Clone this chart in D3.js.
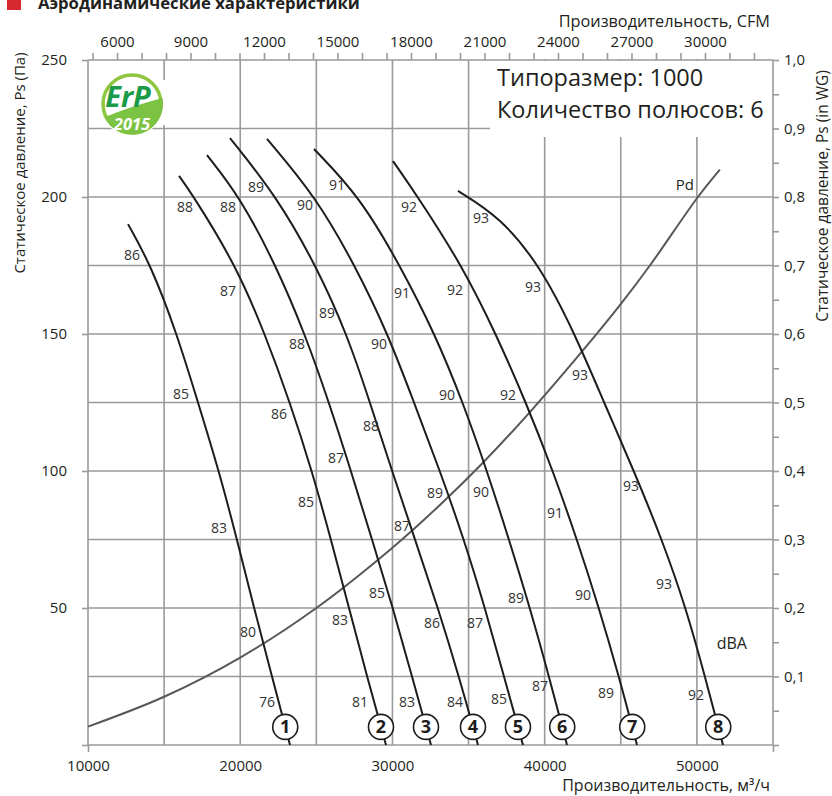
<!DOCTYPE html>
<html><head><meta charset="utf-8">
<script src="https://cdn.jsdelivr.net/npm/d3@7"></script>
<style>
body{margin:0;background:#fff;}
svg{display:block;font-family:"Open Sans",sans-serif;}
</style></head><body>
<svg id="chart" width="832" height="796"></svg>
<script>
// ---------- DATA ----------
const gridQ = [10000,15000,20000,25000,30000,35000,40000,45000,50000,55000];
const gridP = [0,25,50,75,100,125,150,175,200,225,250];
const bottomLabels = [10000,20000,30000,40000,50000];
const leftTicks = [0,50,100,150,200,250];
const cfmDomain = [4816,32776];
const cfmTicks = [5000,6000,7000,8000,9000,10000,11000,12000,13000,14000,15000,16000,17000,18000,19000,20000,21000,22000,23000,24000,25000,26000,27000,28000,29000,30000,31000,32000];
const cfmLabels = [6000,9000,12000,15000,18000,21000,24000,27000,30000];
const wgTicks = [0,0.05,0.1,0.15,0.2,0.25,0.3,0.35,0.4,0.45,0.5,0.55,0.6,0.65,0.7,0.75,0.8,0.85,0.9,0.95,1.0];
const wgLabels = [0.1,0.2,0.3,0.4,0.5,0.6,0.7,0.8,0.9,1.0];

// Dynamic pressure curve [Q m3/h, Pa]
const pdCurve = [[10000,6.7],[15000,17.6],[20000,31.9],[25000,50],[30000,72],[33120,87.6],[35944,103],[39031,121.5],[42512,144],[45008,161],[46912,175],[50066,200],[51510,210]];

// Fan curves [Q m3/h, Ps Pa]
const curve1 = [[12628,190.1],[14139,175],[15847,150],[17226,125],[18606,100],[19788,75],[20905,50],[22088,25],[23270,0]];
const curve2 = [[15978,207.7],[16963,200],[19723,175],[21628,150],[23270,125],[24715,100],[25963,75],[27146,50],[28328,25],[29577,0]];
const curve3 = [[17817,215.3],[19985,200],[22350,175],[24255,150],[25832,125],[27277,100],[28657,75],[30036,50],[31285,25],[32533,0]];
const curve4 = [[19328,221.5],[22416,200],[24978,175],[27014,150],[28525,125],[29971,100],[31482,75],[32993,50],[34372,25],[35620,0]];
const curve5 = [[21759,221.2],[24978,200],[27540,175],[29708,150],[31416,125],[33124,100],[34701,75],[36080,50],[37328,25],[38576,0]];
const curve6 = [[24847,217.5],[27868,200],[30496,175],[32795,150],[34635,125],[36212,100],[37657,75],[39036,50],[40284,25],[41467,0]];
const curve7 = [[30036,213.1],[31679,200],[34569,175],[36803,150],[38774,125],[40547,100],[42124,75],[43569,50],[44883,25],[46065,0]];
const curve8 = [[34306,202.2],[37066,192.7],[39693,175],[41992,150],[43898,125],[45868,100],[47708,75],[49284,50],[50533,25],[51715,0]];
const fanCurves = [curve1,curve2,curve3,curve4,curve5,curve6,curve7,curve8];
const curveNumbers = [1,2,3,4,5,6,7,8];
const numberP = 6.6;

// Sound level labels [Q, P, text]
const dbaLabels = [
 [12890,178.8,"86"],[16108,128.1,"85"],[18604,79.2,"83"],[20509,41.2,"80"],[21757,15.7,"76"],
 [16371,196.4,"88"],[19195,165.7,"87"],[22545,120.8,"86"],[24319,88.7,"85"],[26552,45.6,"83"],[27865,15.7,"81"],
 [19195,196.4,"88"],[23727,146.4,"88"],[26289,104.7,"87"],[28982,55.5,"85"],[30952,15.7,"83"],
 [21034,203.6,"89"],[25698,157.7,"89"],[28588,116.4,"88"],[30624,79.9,"87"],[32594,44.5,"86"],[34105,15.7,"84"],
 [24253,197.1,"90"],[29113,146.4,"90"],[32791,92,"89"],[35419,44.5,"87"],[36995,16.8,"85"],
 [26355,204.4,"91"],[30624,165,"91"],[33580,127.7,"90"],[35813,92.3,"90"],[38112,53.6,"89"],[39688,21.5,"87"],
 [31084,196.4,"92"],[34105,166,"92"],[37586,127.7,"92"],[40673,84.7,"91"],[42512,54.7,"90"],[44023,19,"89"],
 [35813,192.3,"93"],[39228,167.2,"93"],[42315,135,"93"],[45665,94.5,"93"],[47833,58.8,"93"],[49934,18.2,"92"]
];
const pdLabel = [49211,204.4,"Pd"];
const dbaUnit = [52298,37.2,"dBA"];

const titleText = "Аэродинамические характеристики";
const topTitle = "Производительность, CFM";
const bottomTitle = "Производительность, м³/ч";
const leftTitle = "Статическое давление, Ps (Па)";
const rightTitle = "Статическое давление, Ps (in WG)";
const boxLines = ["Типоразмер: 1000","Количество полюсов: 6"];

// ---------- CHART ----------
const svg = d3.select('#chart');
const x = d3.scaleLinear().domain([10000,55000]).range([88,773]);
const y = d3.scaleLinear().domain([0,250]).range([745,60]);
const xCfm = d3.scaleLinear().domain(cfmDomain).range([88,773]);
const yWg = d3.scaleLinear().domain([0,1]).range([745,60]);
const gridColor = '#9a9a9e';
const txt = '#231f20';

const grid = svg.append('g').attr('stroke',gridColor).attr('stroke-width',1.6);
grid.selectAll('line.v').data(gridQ).join('line').attr('class','v')
  .attr('x1',d=>x(d)).attr('x2',d=>x(d)).attr('y1',y(0)).attr('y2',y(250));
grid.selectAll('line.h').data(gridP).join('line').attr('class','h')
  .attr('x1',x(10000)).attr('x2',x(55000)).attr('y1',d=>y(d)).attr('y2',d=>y(d));

// white areas (logo + text box)
svg.append('rect').attr('x',490).attr('y',61).attr('width',282).attr('height',76).attr('fill','#fff');
svg.append('rect').attr('x',140).attr('y',80).attr('width',28).attr('height',45).attr('fill','#fff');
svg.append('circle').attr('cx',132).attr('cy',104).attr('r',32).attr('fill','#fff');

function styleAxis(g){
  g.select('.domain').remove();
  g.selectAll('.tick line').attr('stroke',gridColor).attr('stroke-width',1.6);
  g.selectAll('.tick text').attr('fill',txt).style('font-size','15px').style('font-family','"Open Sans",sans-serif');
}
// top CFM axis
svg.append('g').attr('transform','translate(0,60)')
  .call(d3.axisTop(xCfm).tickValues(cfmTicks).tickSize(7).tickPadding(6)
    .tickFormat(d=>cfmLabels.includes(d)?String(d):''))
  .call(styleAxis);
// bottom axis labels
svg.append('g').attr('transform','translate(0,745)')
  .call(d3.axisBottom(x).tickValues(bottomLabels).tickSize(0).tickPadding(15).tickFormat(d=>String(d)))
  .call(styleAxis);
svg.append('g').attr('transform','translate(0,745)')
  .call(d3.axisBottom(x).tickValues([10000,55000]).tickSize(7).tickFormat(''))
  .call(styleAxis);
// left axis
svg.append('g').attr('transform','translate(88,0)')
  .call(d3.axisLeft(y).tickValues(leftTicks).tickSize(6).tickPadding(15).tickFormat(d=>d===0?'':String(d)))
  .call(styleAxis);
// right axis
svg.append('g').attr('transform','translate(773,0)')
  .call(d3.axisRight(yWg).tickValues(wgTicks).tickSize(6).tickPadding(5)
    .tickFormat(d=>wgLabels.some(v=>Math.abs(v-d)<1e-9)?d.toFixed(1).replace('.',','):''))
  .call(styleAxis);

// Pd curve
const pdLine = d3.line().x(d=>x(d[0])).y(d=>y(d[1])).curve(d3.curveCatmullRom.alpha(0.5));
svg.append('path').datum(pdCurve).attr('d',pdLine).attr('fill','none').attr('stroke','#58585a').attr('stroke-width',2);

// fan curves
const fanLine = d3.line().x(d=>x(d[0])).y(d=>y(d[1])).curve(d3.curveBasis);
svg.append('g').selectAll('path').data(fanCurves).join('path')
  .attr('d',fanLine).attr('fill','none').attr('stroke','#1d1d1b').attr('stroke-width',2);

// dBA labels
svg.append('g').selectAll('text').data(dbaLabels).join('text')
  .attr('x',d=>x(d[0])).attr('y',d=>y(d[1])).attr('text-anchor','middle').attr('dy','0.36em')
  .attr('fill','#333').style('font-size','14px').text(d=>d[2]);

// circled numbers
function qAt(c,p){
  for(let i=0;i<c.length-1;i++){
    const a=c[i],b=c[i+1];
    if(a[1]>=p && b[1]<=p){ const t=(a[1]-p)/(a[1]-b[1]); return a[0]+t*(b[0]-a[0]); }
  }
  return c[c.length-1][0];
}
const nums = svg.append('g').selectAll('g').data(fanCurves).join('g')
  .attr('transform',d=>`translate(${x(qAt(d,numberP))},${y(numberP)})`);
nums.append('circle').attr('r',12.5).attr('fill','#fff').attr('stroke','#1d1d1b').attr('stroke-width',1.6);
nums.append('text').attr('text-anchor','middle').attr('dy','0.36em').attr('fill','#1d1d1b')
  .style('font-size','18px').style('font-weight','700').text((d,i)=>curveNumbers[i]);

// Pd / dBA labels
svg.append('text').attr('x',x(pdLabel[0])).attr('y',y(pdLabel[1])).attr('text-anchor','middle').attr('dy','0.36em')
  .attr('fill',txt).style('font-size','15px').text(pdLabel[2]);
svg.append('text').attr('x',x(dbaUnit[0])).attr('y',y(dbaUnit[1])).attr('text-anchor','middle').attr('dy','0.36em')
  .attr('fill',txt).style('font-size','16px').text(dbaUnit[2]);

// box text
svg.append('g').selectAll('text').data(boxLines).join('text')
  .attr('x',497).attr('y',(d,i)=>86+i*32).attr('fill',txt).style('font-size','23.5px').text(d=>d);

// titles
svg.append('rect').attr('x',7).attr('y',-5).attr('width',14).attr('height',15).attr('fill','#d7282f');
svg.append('text').attr('x',38).attr('y',9).attr('fill',txt).style('font-size','16.7px').style('font-weight','700').text(titleText);
svg.append('text').attr('x',770).attr('y',27).attr('text-anchor','end').attr('fill',txt).style('font-size','16.3px').text(topTitle);
svg.append('text').attr('x',770).attr('y',791).attr('text-anchor','end').attr('fill',txt).style('font-size','16px').text(bottomTitle);
svg.append('text').attr('transform','translate(20,163) rotate(-90)').attr('text-anchor','middle').attr('dy','0.36em')
  .attr('fill',txt).style('font-size','15px').text(leftTitle);
svg.append('text').attr('transform','translate(822,196) rotate(-90)').attr('text-anchor','middle').attr('dy','0.36em')
  .attr('fill',txt).style('font-size','15.5px').text(rightTitle);

// ErP logo
const logo = svg.append('g').attr('transform','translate(132,104)');
logo.append('circle').attr('r',29).attr('fill','#fff').attr('stroke','#8dc63f').attr('stroke-width',3.5);
logo.append('path').attr('d','M -27,13 Q 0,2 30.5,-6 A 30.5 30.5 0 0 1 -27,13 Z').attr('fill','#7cc243');
logo.append('text').attr('x',-4).attr('y',3).attr('text-anchor','middle').attr('fill','#1b9a48')
  .style('font-size','29px').style('font-weight','700').style('font-style','italic').text('ErP');
logo.append('text').attr('x',0).attr('y',26).attr('text-anchor','middle').attr('fill','#fff')
  .style('font-size','16.5px').style('font-weight','700').style('font-style','italic').text('2015');
</script>
</body></html>
